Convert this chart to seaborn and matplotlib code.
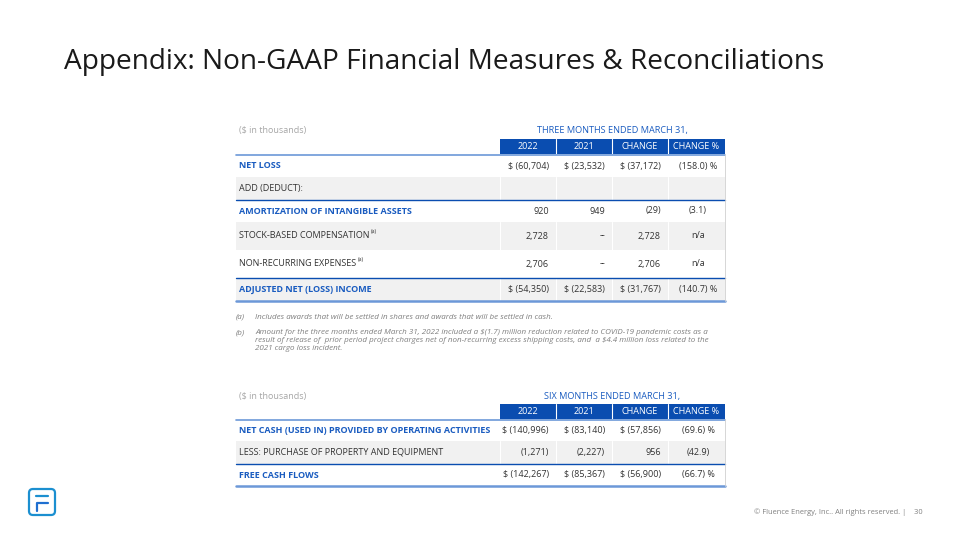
import matplotlib.pyplot as plt
import seaborn as sns
from matplotlib.patches import Rectangle, FancyBboxPatch

sns.set_theme(style="white")
plt.rcParams["font.family"] = ["Open Sans", "DejaVu Sans"]

# ---- data ----
title = "Appendix: Non-GAAP Financial Measures & Reconciliations"
col_headers = ["2022", "2021", "CHANGE", "CHANGE %"]

t1_period = "THREE MONTHS ENDED MARCH 31,"
t1_labels = ["NET LOSS", "ADD (DEDUCT):", "AMORTIZATION OF INTANGIBLE ASSETS",
             "STOCK-BASED COMPENSATION", "NON-RECURRING EXPENSES", "ADJUSTED NET (LOSS) INCOME"]
t1_notes = ["", "", "", "(a)", "(a)", ""]
t1_2022 = ["$ (60,704)", "", "920", "2,728", "2,706", "$ (54,350)"]
t1_2021 = ["$ (23,532)", "", "949", "--", "--", "$ (22,583)"]
t1_change = ["$ (37,172)", "", "(29)", "2,728", "2,706", "$ (31,767)"]
t1_pct = ["(158.0) %", "", "(3.1)", "n/a", "n/a", "(140.7) %"]
t1_bold = [True, False, True, False, False, True]

t2_period = "SIX MONTHS ENDED MARCH 31,"
t2_labels = ["NET CASH (USED IN) PROVIDED BY OPERATING ACTIVITIES",
             "LESS: PURCHASE OF PROPERTY AND EQUIPMENT", "FREE CASH FLOWS"]
t2_2022 = ["$ (140,996)", "(1,271)", "$ (142,267)"]
t2_2021 = ["$ (83,140)", "(2,227)", "$ (85,367)"]
t2_change = ["$ (57,856)", "956", "$ (56,900)"]
t2_pct = ["(69.6) %", "(42.9)", "(66.7) %"]
t2_bold = [True, False, True]

footnote_tags = ["(a)", "(b)"]
footnote_texts = [
    "Includes awards that will be settled in shares and awards that will be settled in cash.",
    "Amount for the three months ended March 31, 2022 included a $(1.7) million reduction related to COVID-19 pandemic costs as a\n"
    "result of release of  prior period project charges net of non-recurring excess shipping costs, and  a $4.4 million loss related to the\n"
    "2021 cargo loss incident.",
]
footer = "© Fluence Energy, Inc.. All rights reserved. |    30"

# ---- style ----
BLUE = "#0A4DB0"
LABEL_BLUE = "#1A5CC0"
LIGHT_BLUE = "#6C98D8"
GRAY_ROW = "#F1F1F1"
TEXT = "#333333"
FS = 6.5

fig = plt.figure(figsize=(9.6, 5.4), dpi=100)
ax = fig.add_axes([0, 0, 1, 1])
ax.set_xlim(0, 960)
ax.set_ylim(540, 0)
ax.axis("off")

ax.text(64, 62, title, fontsize=20.2, color="#1a1a1a", va="center", ha="left")

x_left, x_band, x_right = 236, 500, 725
col_edges = [500, 556, 612, 668, 725]
val_right = [549, 605, 661]
pct_center = 698


def draw_table(top, period, labels, c22, c21, cch, cpct, bold, row_tops, shaded, blue_lines, notes=None):
    ax.text(239, top - 8, "($ in thousands)", fontsize=FS, color="#A6A6A6", va="center")
    ax.text(612, top - 8, period, fontsize=FS + 0.1, color=LABEL_BLUE, va="center", ha="center")
    hb_top, hb_bot = top, top + 15
    ax.add_patch(Rectangle((x_band, hb_top), x_right - x_band, hb_bot - hb_top, color=BLUE, lw=0))
    for i, h in enumerate(col_headers):
        ax.text((col_edges[i] + col_edges[i + 1]) / 2, (hb_top + hb_bot) / 2 + 0.3, h,
                fontsize=FS, color="white", ha="center", va="center")
    for xe in col_edges[1:-1]:
        ax.plot([xe, xe], [hb_top, hb_bot], color="white", lw=0.8)
    ax.plot([x_left, x_right], [hb_bot + 0.5, hb_bot + 0.5], color=LIGHT_BLUE, lw=1.2)

    for i, lab in enumerate(labels):
        y0, y1 = row_tops[i], row_tops[i + 1]
        if shaded[i]:
            ax.add_patch(Rectangle((x_left, y0), x_right - x_left, y1 - y0, color=GRAY_ROW, lw=0))
            for xe in col_edges[:-1]:
                ax.plot([xe, xe], [y0, y1], color="white", lw=0.8)
        yc = (y0 + y1) / 2
        t = ax.text(239, yc, lab, fontsize=FS, va="center", ha="left",
                    color=LABEL_BLUE if bold[i] else TEXT,
                    fontweight="bold" if bold[i] else "normal")
        if notes and notes[i]:
            ax.annotate(notes[i], xy=(1, 0.75), xycoords=t, xytext=(1.2, 0),
                        textcoords="offset points", fontsize=3.8, color=TEXT, va="bottom")
        for xr, vals in zip(val_right, [c22, c21, cch]):
            ax.text(xr, yc, vals[i], fontsize=FS, va="center", ha="right", color=TEXT)
        ax.text(pct_center, yc, cpct[i], fontsize=FS, va="center", ha="center", color=TEXT)

    for yl in blue_lines:
        ax.plot([x_left, x_right], [yl, yl], color=BLUE, lw=1.0)
    ax.plot([x_left, x_right], [row_tops[-1], row_tops[-1]], color=LIGHT_BLUE, lw=1.8)
    ax.plot([x_right, x_right], [hb_bot, row_tops[-1]], color="#D0D0D0", lw=0.6)


draw_table(139, t1_period, t1_labels, t1_2022, t1_2021, t1_change, t1_pct, t1_bold,
           row_tops=[155, 177, 200, 222, 250, 278, 301],
           shaded=[False, True, False, True, False, True],
           blue_lines=[200, 278], notes=t1_notes)

draw_table(404, t2_period, t2_labels, t2_2022, t2_2021, t2_change, t2_pct, t2_bold,
           row_tops=[420, 441, 464, 486],
           shaded=[False, True, False],
           blue_lines=[464])

# footnotes
note_tops = [314, 329]
for tag, txt, y in zip(footnote_tags, footnote_texts, note_tops):
    ax.text(236, y, tag, fontsize=5.8, style="italic", color="#7F7F7F", va="top")
    ax.text(255, y, txt, fontsize=5.8, style="italic", color="#7F7F7F", va="top", linespacing=1.25)

# footer
ax.text(923, 512, footer, fontsize=5.4, color="#808080", ha="right", va="center")

# logo
ax.add_patch(FancyBboxPatch((29, 489), 26, 26, boxstyle="round,pad=0,rounding_size=4",
                            fill=False, ec="#1B8FD0", lw=1.6))
ax.plot([36, 48], [495.5, 495.5], color="#1B8FD0", lw=1.6, solid_capstyle="round")
ax.plot([36.5, 36.5, 48], [511, 503, 503], color="#1E6FD0", lw=1.6, solid_capstyle="round")

fig.savefig("out.png", dpi=100)
